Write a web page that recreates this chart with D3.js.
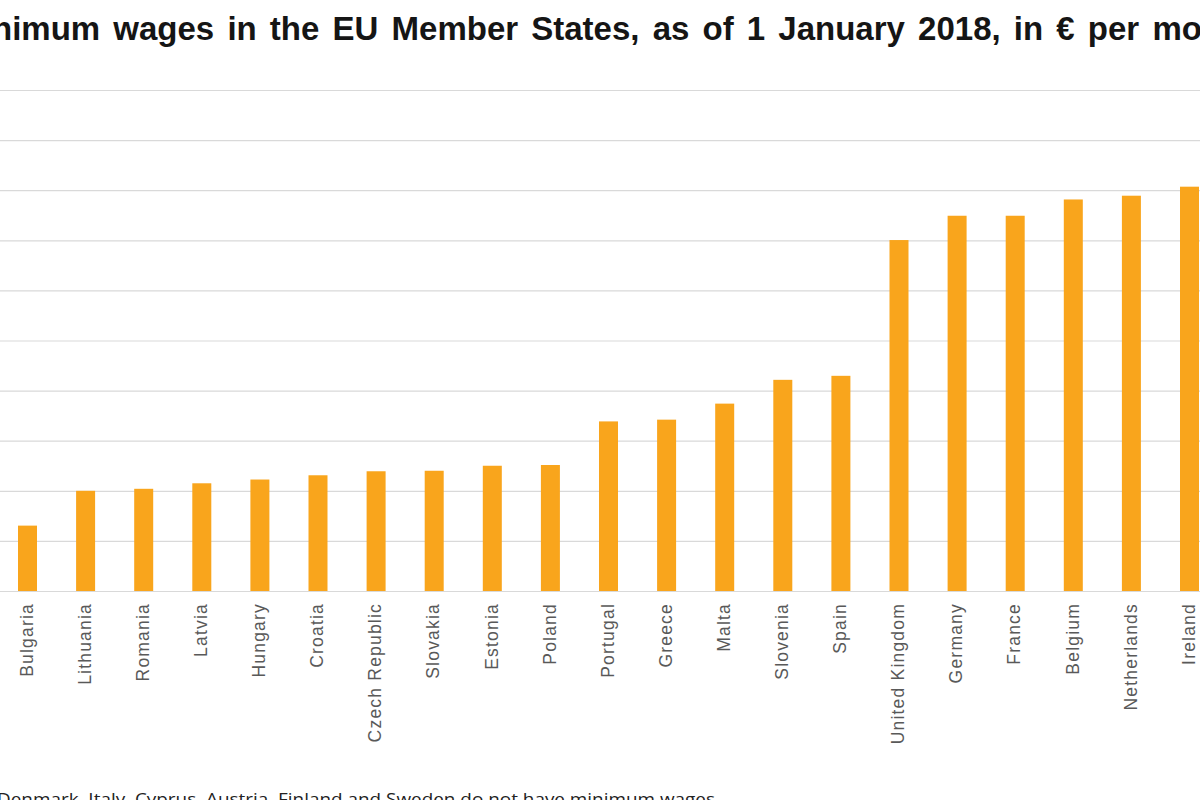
<!DOCTYPE html>
<html>
<head>
<meta charset="utf-8">
<script src="https://cdn.jsdelivr.net/npm/d3@7"></script>
<style>
  html, body { margin: 0; padding: 0; background: #ffffff; overflow: hidden; }
  svg { display: block; }
</style>
</head>
<body>
<svg id="chart" width="1200" height="800"></svg>
<script>
// ---- data ----
const countries = ["Bulgaria","Lithuania","Romania","Latvia","Hungary","Croatia","Czech Republic","Slovakia","Estonia","Poland","Portugal","Greece","Malta","Slovenia","Spain","United Kingdom","Germany","France","Belgium","Netherlands","Ireland"];
const wages = [261, 400, 408, 430, 445, 462, 478, 480, 500, 503, 677, 684, 748, 843, 859, 1401, 1498, 1498, 1563, 1578, 1614];
const yTicks = [0, 200, 400, 600, 800, 1000, 1200, 1400, 1600, 1800, 2000];
const titleText = "Minimum wages in the EU Member States, as of 1 January 2018, in € per month";
const noteText = "Denmark, Italy, Cyprus, Austria, Finland and Sweden do not have minimum wages";

const svg = d3.select("#chart");

const x = d3.scaleBand().domain(countries).range([-21.1, 1238.1]).paddingInner(0.673).paddingOuter(0.673);
const y = d3.scaleLinear().domain([0, 2000]).range([591, 90]);

// gridlines via y axis (its labels lie outside the cropped view, so they are not drawn)
const yAxis = svg.append("g")
  .call(d3.axisLeft(y).tickValues(yTicks).tickSize(-1260).tickFormat(""));
yAxis.select(".domain").remove();
yAxis.selectAll(".tick line").attr("stroke", "#d9d9d9").attr("stroke-width", 1.2);
yAxis.selectAll(".tick text").remove();

// bars
svg.append("g").selectAll("rect").data(countries).join("rect")
  .attr("x", d => x(d))
  .attr("width", x.bandwidth())
  .attr("y", (d, i) => y(wages[i]))
  .attr("height", (d, i) => y(0) - y(wages[i]))
  .attr("fill", "#F9A51C");

// x axis labels
const xAxis = svg.append("g").attr("transform", `translate(0,${y(0)})`)
  .call(d3.axisBottom(x).tickSize(0));
xAxis.select(".domain").attr("stroke", "#d9d9d9").attr("stroke-width", 1.2).attr("d", "M-30,0.5H1260");
xAxis.selectAll(".tick text")
  .attr("transform", "translate(0,12) rotate(-90)")
  .attr("x", 0).attr("y", 0).attr("dy", "0.3em")
  .attr("text-anchor", "end")
  .attr("fill", "#595959")
  .style("font-family", "Liberation Sans, Arial, sans-serif")
  .style("font-size", "17.5px")
  .style("letter-spacing", "1.2px");

// title
const tFont = "bold 33px 'Liberation Sans', Arial, sans-serif";
const probe = svg.append("text").style("font", tFont).style("word-spacing", "4px").text("Mi");
const miW = probe.node().getComputedTextLength();
probe.remove();
svg.append("text")
  .attr("x", -miW - 8).attr("y", 40)
  .style("font", tFont)
  .style("word-spacing", "4px")
  .attr("fill", "#151515")
  .text(titleText);

// footnote
svg.append("text")
  .attr("x", -3).attr("y", 805)
  .attr("textLength", 718).attr("lengthAdjust", "spacingAndGlyphs")
  .style("font-family", "'Open Sans', 'Noto Sans', sans-serif")
  .style("font-size", "17px")
  .attr("fill", "#222222")
  .text(noteText);
</script>
</body>
</html>
